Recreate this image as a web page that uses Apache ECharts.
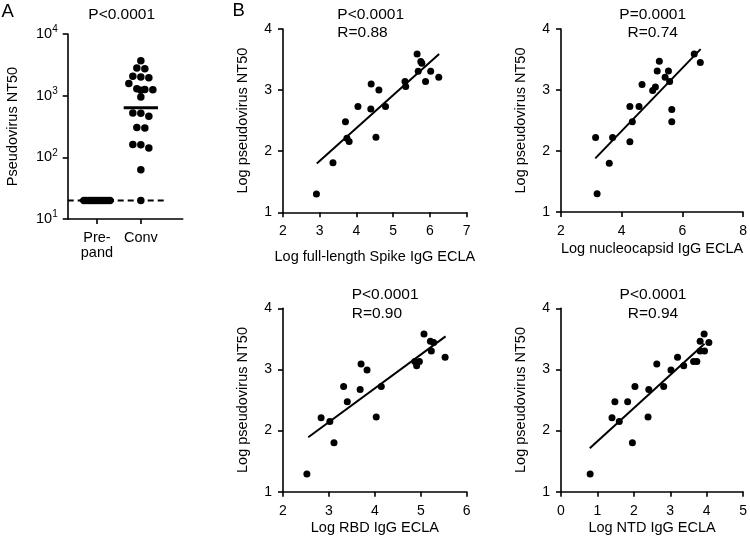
<!DOCTYPE html>
<html>
<head>
<meta charset="utf-8">
<script src="https://cdn.jsdelivr.net/npm/echarts@6/dist/echarts.min.js"></script>
<style>
html, body { margin: 0; background: #fff; }
#main { width: 750px; height: 543px; }
</style>
</head>
<body>
<div id="main"></div>
<script>
// panel A: pseudovirus NT50 per group
const groupNames = ['Pre-\npand', 'Conv'];
const prePandNT50 = [20, 20, 20, 20, 20, 20, 20, 20, 20, 20, 20, 20];
const convNT50 = [3700, 2810, 2740, 2060, 2010, 1950, 1570, 1300, 1260, 1250, 1220, 950,
  524, 520, 462, 306, 300, 162, 160, 142, 63, 20];
const detectionLimit = 20;

// panel B: log values
const spikeX = [2.91, 3.36, 3.70, 3.74, 3.80, 4.04, 4.40, 4.39, 4.53, 4.61, 4.79, 5.32, 5.34, 5.65, 5.75, 5.78, 5.68, 6.02, 5.88, 6.24];
const spikeY = [1.30, 1.81, 2.48, 2.21, 2.16, 2.73, 3.10, 2.69, 2.23, 3.00, 2.73, 3.14, 3.06, 3.59, 3.47, 3.44, 3.31, 3.31, 3.14, 3.21];
const spikeFitX = [2.92, 6.25];
const spikeFitY = [1.80, 3.59];

const ncpX = [3.19, 3.14, 3.59, 3.70, 4.27, 4.27, 4.35, 4.57, 4.67, 5.02, 5.11, 5.17, 5.24, 5.43, 5.54, 5.58, 5.65, 5.65, 6.39, 6.59];
const ncpY = [1.30, 2.22, 1.80, 2.22, 2.15, 2.73, 2.48, 2.73, 3.09, 2.99, 3.05, 3.31, 3.47, 3.21, 3.31, 3.14, 2.68, 2.48, 3.59, 3.45];
const ncpFitX = [3.13, 6.60];
const ncpFitY = [1.88, 3.67];

const rbdX = [2.52, 2.83, 3.02, 3.11, 3.32, 3.40, 3.68, 3.70, 3.83, 4.03, 4.14, 4.87, 4.91, 4.97, 5.07, 5.21, 5.28, 5.23, 5.53];
const rbdY = [1.29, 2.21, 2.15, 1.80, 2.72, 2.47, 2.67, 3.09, 2.99, 2.22, 2.72, 3.13, 3.06, 3.13, 3.58, 3.46, 3.44, 3.30, 3.20];
const rbdFitX = [2.55, 5.54];
const rbdFitY = [1.89, 3.54];

const ntdX = [0.80, 1.40, 1.48, 1.60, 1.83, 1.96, 2.03, 2.39, 2.41, 2.63, 2.82, 3.02, 3.20, 3.37, 3.64, 3.73, 3.82, 3.82, 3.93, 3.94, 4.06];
const ntdY = [1.29, 2.21, 2.47, 2.15, 2.47, 1.80, 2.72, 2.22, 2.67, 3.09, 2.72, 2.99, 3.20, 3.06, 3.13, 3.13, 3.30, 3.46, 3.58, 3.30, 3.44];
const ntdFitX = [0.79, 3.94];
const ntdFitY = [1.71, 3.42];

const statP = ['P<0.0001', 'P=0.0001', 'P<0.0001', 'P<0.0001'];
const statR = ['R=0.88', 'R=0.74', 'R=0.90', 'R=0.94'];
const xTitles = ['Log full-length Spike IgG ECLA', 'Log nucleocapsid IgG ECLA', 'Log RBD IgG ECLA', 'Log NTD IgG ECLA'];
const yTitle = 'Log pseudovirus NT50';

const FONT = "'Liberation Sans', Arial, sans-serif";
const black = '#000';

// panel A layout
const aGrid = { left: 67.7, top: 34, width: 115, height: 185 };
const aMin = -0.665, aMax = 1.953;
const pxPerUnit = aGrid.width / (aMax - aMin);

// spread dots with similar values side by side (rows like a column scatter)
function swarm(values, center, maxSpan) {
  const order = values.map((v, i) => i).sort((a, b) => values[b] - values[a]);
  const rows = [];
  order.forEach(i => {
    const lv = Math.log10(values[i]);
    const row = rows[rows.length - 1];
    if (row && row.start - lv < 0.1) row.items.push(i);
    else rows.push({ start: lv, items: [i] });
  });
  const pts = [];
  rows.forEach(row => {
    const n = row.items.length;
    const step = n > 1 ? Math.min(8, maxSpan / (n - 1)) : 0;
    row.items.forEach((i, k) => {
      pts.push([center + (k - (n - 1) / 2) * step / pxPerUnit, values[i]]);
    });
  });
  return pts;
}

function geoMean(values) {
  return Math.pow(10, values.reduce((s, v) => s + Math.log10(v), 0) / values.length);
}

const axisLineStyle = { color: black, width: 1.6 };

function scatterAxes(i, xMin, xMax, xInterval, xName, xGap) {
  return {
    x: {
      gridIndex: i, type: 'value', min: xMin, max: xMax, interval: xInterval,
      name: xName, nameLocation: 'middle', nameGap: xGap,
      nameTextStyle: { color: black, fontSize: 14.5, fontFamily: FONT },
      axisLine: { show: true, onZero: false, lineStyle: axisLineStyle },
      axisTick: { show: true, length: 5, lineStyle: axisLineStyle },
      axisLabel: { color: black, fontSize: 14, fontFamily: FONT, margin: 12 },
      splitLine: { show: false }
    },
    y: {
      gridIndex: i, type: 'value', min: 1, max: 4, interval: 1,
      name: yTitle, nameLocation: 'middle', nameGap: 33,
      nameTextStyle: { color: black, fontSize: 14.5, fontFamily: FONT },
      axisLine: { show: true, onZero: false, lineStyle: axisLineStyle },
      axisTick: { show: true, length: 5, lineStyle: axisLineStyle },
      axisLabel: { color: black, fontSize: 14, fontFamily: FONT, margin: 11 },
      splitLine: { show: false }
    }
  };
}

function zip(a, b) { return a.map((v, i) => [v, b[i]]); }

const panels = [
  { grid: { left: 283, top: 29, width: 183.7, height: 183.3 }, ax: scatterAxes(1, 2, 7, 1, xTitles[0], 37), xs: spikeX, ys: spikeY, fx: spikeFitX, fy: spikeFitY },
  { grid: { left: 561, top: 29, width: 184.7, height: 183 }, ax: scatterAxes(2, 2, 8, 2, xTitles[1], 29), xs: ncpX, ys: ncpY, fx: ncpFitX, fy: ncpFitY },
  { grid: { left: 283, top: 308.3, width: 183.7, height: 183.4 }, ax: scatterAxes(3, 2, 6, 1, xTitles[2], 29), xs: rbdX, ys: rbdY, fx: rbdFitX, fy: rbdFitY },
  { grid: { left: 561, top: 308.3, width: 184.7, height: 183.4 }, ax: scatterAxes(4, 0, 5, 1, xTitles[3], 29), xs: ntdX, ys: ntdY, fx: ntdFitX, fy: ntdFitY }
];

const grids = [aGrid];
const xAxes = [{
  gridIndex: 0, type: 'value', min: aMin, max: aMax,
  axisLine: { show: true, onZero: false, lineStyle: axisLineStyle },
  axisTick: { show: true, length: 5, customValues: [0, 1], lineStyle: axisLineStyle },
  axisLabel: {
    customValues: [0, 1], color: black, fontSize: 14.5, fontFamily: FONT, lineHeight: 15, margin: 11,
    formatter: v => groupNames[Math.round(v)]
  },
  splitLine: { show: false }
}];
const yAxes = [{
  gridIndex: 0, type: 'log', logBase: 10, min: 10, max: 10000,
  name: 'Pseudovirus NT50', nameLocation: 'middle', nameGap: 47,
  nameTextStyle: { color: black, fontSize: 14.5, fontFamily: FONT },
  axisLine: { show: true, onZero: false, lineStyle: axisLineStyle },
  axisTick: { show: true, length: 5, lineStyle: axisLineStyle },
  minorTick: { show: false },
  axisLabel: {
    color: black, fontFamily: FONT, margin: 10,
    formatter: v => '{b|10}{s|' + Math.round(Math.log10(v)) + '}',
    rich: {
      b: { fontSize: 14.5, fontFamily: FONT, color: black },
      s: { fontSize: 10, fontFamily: FONT, color: black, padding: [0, 0, 9, 0] }
    }
  },
  splitLine: { show: false }
}];

const series = [
  {
    type: 'line', xAxisIndex: 0, yAxisIndex: 0, showSymbol: false, silent: true,
    data: [[aMin, detectionLimit], [1.59, detectionLimit]],
    lineStyle: { color: black, width: 2, type: [6, 4] }
  },
  {
    type: 'scatter', xAxisIndex: 0, yAxisIndex: 0, symbolSize: 7.5,
    itemStyle: { color: black, opacity: 1 },
    data: swarm(prePandNT50, 0, 26).concat(swarm(convNT50, 1, 26))
  }
];
[prePandNT50, convNT50].forEach((vals, i) => {
  const gm = geoMean(vals);
  series.push({
    type: 'line', xAxisIndex: 0, yAxisIndex: 0, showSymbol: false, silent: true,
    data: [[i - 0.39, gm], [i + 0.39, gm]],
    lineStyle: { color: black, width: 3 }, z: 3
  });
});

panels.forEach((p, k) => {
  const i = k + 1;
  grids.push(p.grid);
  xAxes.push(p.ax.x);
  yAxes.push(p.ax.y);
  series.push({
    type: 'scatter', xAxisIndex: i, yAxisIndex: i, symbolSize: 7,
    itemStyle: { color: black, opacity: 1 },
    data: zip(p.xs, p.ys)
  });
  series.push({
    type: 'line', xAxisIndex: i, yAxisIndex: i, showSymbol: false, silent: true,
    data: zip(p.fx, p.fy),
    lineStyle: { color: black, width: 2 }
  });
});

function txt(text, x, y, align, size) {
  return {
    type: 'text', x: x, y: y,
    style: { text: text, fill: black, font: size + 'px ' + FONT, align: align, verticalAlign: 'middle' }
  };
}

const graphics = [
  txt('A', 1.5, 12, 'left', 18.5),
  txt('B', 232.5, 11, 'left', 18.5),
  txt('P<0.0001', 121.7, 15, 'center', 15.5),
  txt(statP[0], 337.3, 15, 'left', 15.5),
  txt(statR[0], 337.3, 33, 'left', 15.5),
  txt(statP[1], 652.7, 15, 'center', 15.5),
  txt(statR[1], 652.7, 33, 'center', 15.5),
  txt(statP[2], 351.7, 295, 'left', 15.5),
  txt(statR[2], 351.7, 313.3, 'left', 15.5),
  txt(statP[3], 653, 294.5, 'center', 15.5),
  txt(statR[3], 653, 313.3, 'center', 15.5)
];

const chart = echarts.init(document.getElementById('main'), null, { renderer: 'canvas' });
chart.setOption({
  animation: false,
  backgroundColor: '#fff',
  grid: grids,
  xAxis: xAxes,
  yAxis: yAxes,
  series: series,
  graphic: graphics
});
</script>
</body>
</html>
